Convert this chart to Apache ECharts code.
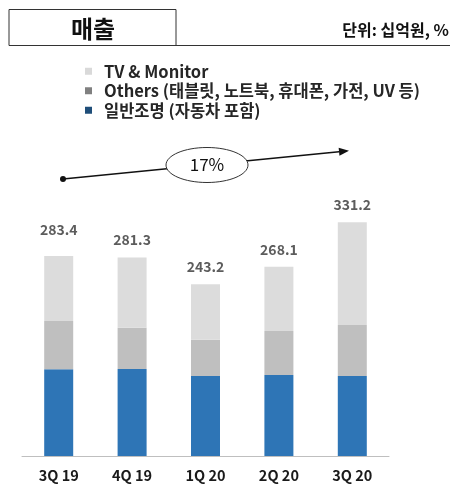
<!DOCTYPE html>
<html><head><meta charset="utf-8">
<script src="https://cdn.jsdelivr.net/npm/echarts@6/dist/echarts.min.js"></script>
<style>html,body{margin:0;padding:0;background:#fff}#c{width:463px;height:500px}</style>
</head><body><div id="c"></div>
<script>
const categories = ['3Q 19', '4Q 19', '1Q 20', '2Q 20', '3Q 20'];
const lighting = [122.8, 123.3, 113.4, 114.8, 113.4];
const others = [68.5, 58.6, 51.5, 62.4, 72.3];
const tvMonitor = [92.1, 99.4, 78.3, 90.9, 145.5];
const totals = [283.4, 281.3, 243.2, 268.1, 331.2];
const growthLabel = '17%';
const names = ['TV & Monitor', 'Others (태블릿, 노트북, 휴대폰, 가전, UV 등)', '일반조명 (자동차 포함)'];

const FONT = "'Noto Sans CJK KR', 'Noto Sans', sans-serif";
const chart = echarts.init(document.getElementById('c'), null, {renderer: 'canvas'});

// arrow geometry
const x0 = 63, y0 = 179, x1 = 349, y1 = 150.7;
const dx = x1 - x0, dy = y1 - y0, L = Math.hypot(dx, dy);
const ux = dx / L, uy = dy / L, px = -uy, py = ux;
const hl = 10, hw = 4;
const bx = x1 - ux * hl, by = y1 - uy * hl;

chart.setOption({
  backgroundColor: '#fff',
  textStyle: {fontFamily: FONT},
  animation: false,
  grid: {left: 22, right: 74, bottom: 44, top: 209},
  legend: {
    orient: 'vertical', left: 80, top: 58, itemWidth: 7, itemHeight: 7, itemGap: 3,
    icon: 'rect',
    textStyle: {fontFamily: FONT, fontSize: 16.5, fontWeight: 'bold', color: '#262626', lineHeight: 16.5, padding: [0, 0, 0, 7]},
    data: [
      {name: names[0], itemStyle: {color: '#D9D9D9'}},
      {name: names[1], itemStyle: {color: '#808080'}},
      {name: names[2], itemStyle: {color: '#1F4E79'}}
    ]
  },
  xAxis: {
    type: 'category', data: categories,
    axisLine: {lineStyle: {color: '#BFBFBF', width: 1}},
    axisTick: {show: false},
    axisLabel: {fontFamily: FONT, fontSize: 14.5, fontWeight: 'bold', color: '#1a1a1a', margin: 12}
  },
  yAxis: {type: 'value', min: 0, max: 350, show: false, splitLine: {show: false}},
  series: [
    {name: names[2], type: 'bar', stack: 's', barWidth: 29, data: lighting, itemStyle: {color: '#2E75B6'}},
    {name: names[1], type: 'bar', stack: 's', barWidth: 29, data: others, itemStyle: {color: '#BFBFBF'}},
    {name: names[0], type: 'bar', stack: 's', barWidth: 29, data: tvMonitor, itemStyle: {color: '#DCDCDC'}},
    {
      name: 'total', type: 'scatter', symbolSize: 1, itemStyle: {color: 'rgba(0,0,0,0)'}, silent: true,
      data: totals.map((v, i) => ({value: v, label: {distance: i === 0 ? 19 : 10}})),
      label: {show: true, position: 'top', fontFamily: FONT, fontSize: 14, fontWeight: 'bold', color: '#333',
        formatter: p => p.value.toFixed(1)}
    }
  ],
  graphic: [
    {type: 'polyline', shape: {points: [[9, 45.5], [9, 9.5], [176, 9.5], [176, 45.5]]}, style: {stroke: '#333', lineWidth: 1, fill: null}},
    {type: 'line', shape: {x1: 9, y1: 45.5, x2: 450, y2: 45.5}, style: {stroke: '#333', lineWidth: 1}},
    {type: 'text', x: 93, y: 29, style: {text: '매출', font: "bold 24px " + FONT, fill: '#111', align: 'center', verticalAlign: 'middle'}},
    {type: 'text', x: 449, y: 30, style: {text: '단위: 십억원, %', font: "bold 16px " + FONT, fill: '#111', align: 'right', verticalAlign: 'middle'}},
    {type: 'line', shape: {x1: x0, y1: y0, x2: bx, y2: by}, style: {stroke: '#111', lineWidth: 1.5}},
    {type: 'circle', shape: {cx: x0, cy: y0, r: 3}, style: {fill: '#111'}},
    {type: 'polygon', shape: {points: [[x1, y1], [bx + px * hw, by + py * hw], [bx - px * hw, by - py * hw]]}, style: {fill: '#111'}},
    {type: 'ellipse', shape: {cx: 207, cy: 165, rx: 41, ry: 17.5}, style: {fill: '#fff', stroke: '#333', lineWidth: 1}, z: 10},
    {type: 'text', x: 207, y: 165, z: 11, style: {text: growthLabel, font: "17px " + FONT, fill: '#111', align: 'center', verticalAlign: 'middle'}}
  ]
});
</script></body></html>
